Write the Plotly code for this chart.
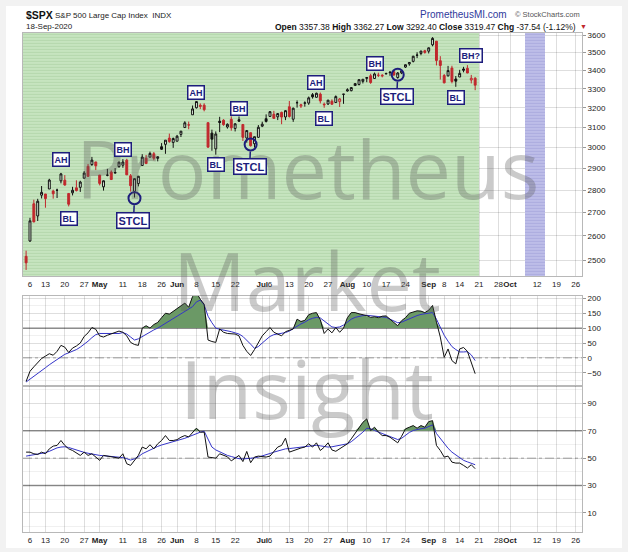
import numpy as np
import pandas as pd
import plotly.graph_objects as go
from plotly.subplots import make_subplots

# trading days shown (holidays dropped, future weekdays kept for the empty right side)
holidays = ["2020-04-10", "2020-05-25", "2020-07-03", "2020-09-07"]
days = [d.strftime("%Y-%m-%d") for d in pd.bdate_range("2020-04-03", "2020-10-30")]
days = [d for d in days if d not in holidays]
pos = {d: i for i, d in enumerate(days)}
dates = [d for d in days if d <= "2020-09-18"]

prev_close = 2526.90  # close before the first bar

opens = [2514.92, 2578.28, 2738.65, 2685.00, 2776.99, 2782.46, 2805.10, 2795.64, 2799.34, 2842.43,
         2845.62, 2784.81, 2787.89, 2810.42, 2812.64, 2854.65, 2909.96, 2918.46, 2930.91, 2869.09,
         2815.01, 2868.88, 2883.14, 2878.26, 2908.83, 2915.46, 2939.50, 2865.86, 2794.54, 2829.95,
         2913.86, 2948.59, 2953.63, 2969.95, 2948.05, 3004.08, 3015.65, 3046.61, 3025.17, 3031.00,
         3064.78, 3098.90, 3111.56, 3163.84, 3199.92, 3213.32, 3213.42, 3123.53, 3071.04, 2993.76,
         3131.00, 3136.13, 3101.64, 3140.29, 3094.42, 3138.70, 3114.40, 3046.60, 3073.20, 3018.59,
         3050.20, 3105.92, 3143.64, 3155.29, 3166.44, 3153.07, 3176.17, 3152.47, 3205.08, 3141.11,
         3225.98, 3208.36, 3224.21, 3224.29, 3268.52, 3254.86, 3271.64, 3218.58, 3219.84, 3234.27,
         3227.22, 3231.76, 3270.45, 3288.26, 3289.92, 3317.37, 3323.17, 3340.05, 3356.04, 3370.34,
         3355.46, 3372.95, 3368.66, 3380.86, 3387.04, 3392.51, 3360.48, 3386.01, 3418.09, 3435.95,
         3449.97, 3485.14, 3494.69, 3509.73, 3507.44, 3543.76, 3564.74, 3453.60, 3371.88, 3369.82,
         3412.56, 3352.70, 3363.56, 3407.73, 3411.23, 3346.86, 3357.38]
highs = [2538.18, 2676.85, 2756.89, 2760.75, 2818.57, 2782.46, 2851.85, 2801.88, 2806.51, 2879.22,
         2868.98, 2785.54, 2815.10, 2844.90, 2842.71, 2887.72, 2921.15, 2954.86, 2930.91, 2869.09,
         2844.24, 2898.23, 2891.11, 2901.92, 2932.16, 2944.25, 2945.82, 2874.14, 2852.80, 2865.01,
         2968.09, 2964.21, 2980.29, 2978.50, 2956.76, 3021.72, 3036.25, 3068.67, 3049.17, 3062.18,
         3081.07, 3130.94, 3128.91, 3211.72, 3233.13, 3222.71, 3223.27, 3123.53, 3088.42, 3079.76,
         3153.45, 3141.16, 3120.00, 3155.53, 3120.92, 3154.90, 3115.01, 3086.25, 3073.73, 3053.89,
         3111.51, 3128.44, 3165.81, 3182.59, 3184.15, 3171.80, 3179.78, 3186.82, 3235.32, 3200.95,
         3238.28, 3220.39, 3233.52, 3258.61, 3277.29, 3279.32, 3279.99, 3227.26, 3241.43, 3243.72,
         3264.74, 3250.92, 3272.17, 3302.73, 3306.84, 3330.77, 3351.03, 3352.54, 3363.29, 3381.01,
         3387.89, 3387.24, 3378.51, 3387.59, 3395.06, 3399.54, 3390.80, 3399.96, 3432.09, 3444.21,
         3481.07, 3501.38, 3509.23, 3514.77, 3528.03, 3588.11, 3564.85, 3479.15, 3379.97, 3424.77,
         3425.55, 3368.95, 3402.93, 3419.48, 3428.92, 3375.17, 3362.27]
lows = [2459.96, 2574.57, 2657.67, 2663.30, 2762.36, 2721.17, 2805.10, 2761.54, 2764.32, 2830.88,
        2820.43, 2727.10, 2775.95, 2794.26, 2791.76, 2852.89, 2860.71, 2912.16, 2892.47, 2821.61,
        2797.85, 2863.55, 2847.65, 2876.48, 2902.88, 2903.44, 2869.59, 2793.15, 2766.64, 2816.78,
        2913.86, 2922.35, 2953.63, 2938.57, 2933.59, 2988.17, 2969.75, 3023.40, 2998.61, 3031.00,
        3051.64, 3098.90, 3090.41, 3163.84, 3196.00, 3193.11, 3181.49, 2999.49, 2984.47, 2965.66,
        3076.06, 3108.03, 3093.51, 3083.11, 3079.39, 3127.12, 3032.13, 3024.01, 3004.63, 2999.74,
        3047.83, 3101.17, 3124.52, 3155.29, 3142.93, 3136.53, 3115.70, 3136.22, 3149.43, 3127.66,
        3200.76, 3198.59, 3205.65, 3215.16, 3247.77, 3253.10, 3222.66, 3200.05, 3214.25, 3216.17,
        3227.22, 3204.13, 3220.26, 3284.53, 3286.37, 3317.37, 3318.14, 3328.72, 3335.44, 3326.44,
        3355.46, 3363.35, 3361.64, 3379.22, 3370.15, 3369.66, 3354.69, 3379.31, 3413.13, 3425.84,
        3444.15, 3468.35, 3484.32, 3493.25, 3494.60, 3535.23, 3427.41, 3349.63, 3329.27, 3366.84,
        3329.25, 3310.47, 3363.56, 3389.25, 3384.45, 3328.82, 3292.40]
closes = [2488.65, 2663.68, 2659.41, 2749.98, 2789.82, 2761.63, 2846.06, 2783.36, 2799.55, 2874.56,
          2823.16, 2736.56, 2799.31, 2797.80, 2836.74, 2878.48, 2863.39, 2939.51, 2912.43, 2830.71,
          2842.74, 2868.44, 2848.42, 2881.19, 2929.80, 2930.32, 2870.12, 2820.00, 2852.50, 2863.70,
          2953.91, 2922.94, 2971.61, 2948.51, 2955.45, 2991.77, 3036.13, 3029.73, 3044.31, 3055.73,
          3080.82, 3122.87, 3112.35, 3193.93, 3232.39, 3207.18, 3190.14, 3002.10, 3041.31, 3066.59,
          3124.74, 3113.49, 3115.34, 3097.74, 3117.86, 3131.29, 3050.33, 3083.76, 3009.05, 3053.24,
          3100.29, 3115.86, 3130.01, 3179.72, 3145.32, 3169.94, 3152.05, 3185.04, 3155.22, 3197.52,
          3226.56, 3215.57, 3224.73, 3251.84, 3257.30, 3276.02, 3235.66, 3215.63, 3239.41, 3218.44,
          3258.44, 3246.22, 3271.12, 3294.61, 3306.51, 3327.77, 3349.16, 3351.28, 3360.47, 3333.69,
          3380.35, 3373.43, 3372.85, 3381.99, 3389.78, 3374.85, 3385.51, 3397.16, 3431.28, 3443.62,
          3478.73, 3484.55, 3508.01, 3500.31, 3526.65, 3580.84, 3455.06, 3426.96, 3331.84, 3398.96,
          3339.19, 3340.97, 3383.54, 3401.20, 3385.49, 3357.01, 3319.47]

cci = [-79, -45, -30, -14, -2, 6, 14, 9, 22, 42,
       36, 18, 33, 40, 50, 72, 84, 102, 96, 74,
       70, 76, 80, 86, 90, 86, 74, 52, 45, 42,
       100, 108, 100, 112, 119, 135, 150, 147, 156, 165,
       174, 184, 170, 206, 219, 197, 180, 60, 55, 52,
       97, 86, 82, 80, 80, 74, 42, 22, 8, 28,
       50, 74, 88, 102, 86, 80, 74, 88, 92, 97,
       130, 122, 126, 145, 150, 152, 128, 82, 97, 84,
       102, 86, 100, 135, 152, 152, 148, 146, 142, 136,
       138, 135, 140, 141, 130, 118, 108, 125, 135, 150,
       155, 158, 157, 152, 160, 176, 120, 70, 2, 30,
       -9, -20, 30, 35, 22, -15, -53]
cci_ma = [-81, -72, -62, -52, -42, -33, -23, -14, -4, 6,
          12, 17, 22, 28, 36, 45, 56, 68, 78, 82,
          82, 81, 80, 80, 82, 85, 80, 70, 60, 64,
          72, 78, 86, 94, 100, 108, 116, 124, 133, 141,
          148, 156, 164, 172, 188, 194, 178, 140, 118, 100,
          96, 94, 92, 88, 84, 80, 72, 60, 46, 32,
          38, 50, 62, 72, 78, 80, 82, 85, 90, 98,
          108, 114, 120, 128, 133, 136, 134, 124, 112, 104,
          102, 104, 110, 120, 130, 136, 140, 142, 143, 142,
          141, 140, 138, 136, 130, 124, 118, 120, 126, 132,
          138, 142, 146, 148, 150, 152, 130, 100, 76, 56,
          38, 28, 20, 20, 21, 10, -9]
rsi = [54.4, 54.4, 53.2, 52.7, 54.4, 53.2, 56.8, 58.8, 59.3, 62.9,
       59.3, 56.8, 55.6, 54.0, 52.0, 54.4, 52.0, 53.2, 50.8, 48.4,
       52.0, 51.5, 51.5, 50.8, 50.0, 53.2, 45.9, 44.7, 48.4, 52.0,
       58.1, 56.8, 59.8, 56.8, 60.5, 62.9, 66.5, 62.9, 62.9, 63.5,
       65.3, 66.5, 65.5, 69.0, 71.9, 69.0, 69.0, 50.8, 50.4, 50.0,
       53.2, 52.0, 51.0, 48.0, 50.0, 52.0, 47.5, 54.9, 46.7, 50.8,
       51.5, 51.0, 50.8, 51.5, 55.0, 58.1, 59.3, 64.6, 54.4, 55.5,
       56.8, 57.4, 58.1, 60.5, 58.1, 61.2, 55.6, 58.0, 61.2, 56.0,
       55.0, 56.8, 58.5, 60.5, 64.1, 68.0, 72.6, 76.2, 78.7, 70.2,
       72.6, 69.0, 66.5, 66.5, 65.3, 63.0, 61.2, 66.0, 71.4, 72.6,
       73.8, 71.9, 73.8, 72.6, 76.7, 77.4, 59.3, 55.6, 50.8, 51.5,
       47.1, 46.4, 46.4, 44.7, 42.8, 45.2, 42.3]
rsi_ma = [51.5, 52.0, 52.5, 53.0, 53.4, 54.0, 55.0, 56.2, 57.5, 58.1,
          58.3, 57.8, 56.8, 55.8, 54.9, 54.2, 53.6, 53.0, 52.5, 52.0,
          51.8, 51.6, 51.3, 51.0, 50.8, 50.4, 49.6, 48.6, 49.5, 51.0,
          53.2, 54.6, 56.0, 57.3, 58.6, 59.6, 60.4, 61.2, 62.0, 62.6,
          63.4, 64.5, 65.6, 66.8, 68.0, 69.0, 69.7, 64.0, 58.1, 56.0,
          54.6, 53.5, 52.0, 51.2, 50.4, 49.6, 49.4, 49.6, 49.8, 50.2,
          50.8, 51.5, 52.5, 53.4, 54.4, 55.2, 56.0, 56.8, 57.0, 57.3,
          57.6, 58.0, 58.5, 59.0, 59.3, 59.4, 59.0, 58.6, 58.1, 58.3,
          58.8, 59.4, 60.0, 60.5, 62.0, 64.2, 66.5, 69.0, 71.9, 71.5,
          70.2, 69.0, 67.8, 66.8, 65.6, 64.5, 63.6, 64.5, 66.8, 68.8,
          70.2, 71.0, 71.5, 71.9, 73.0, 74.3, 68.0, 64.1, 60.5, 57.2,
          54.4, 52.3, 50.2, 48.4, 47.3, 46.2, 45.2]

tick_dates = ["2020-04-06", "2020-04-13", "2020-04-20", "2020-04-27", "2020-05-01", "2020-05-11",
              "2020-05-18", "2020-05-26", "2020-06-01", "2020-06-08", "2020-06-15", "2020-06-22",
              "2020-07-01", "2020-07-06", "2020-07-13", "2020-07-20", "2020-07-27", "2020-08-03",
              "2020-08-10", "2020-08-17", "2020-08-24", "2020-09-01", "2020-09-08", "2020-09-14",
              "2020-09-21", "2020-09-28", "2020-10-01", "2020-10-12", "2020-10-19", "2020-10-26"]
tick_text = ["6", "13", "20", "27", "<b>May</b>", "11", "18", "26", "<b>Jun</b>", "8", "15", "22",
             "<b>Jul</b>", "6", "13", "20", "27", "<b>Aug</b>", "10", "17", "24", "<b>Sep</b>", "8", "14",
             "21", "28", "<b>Oct</b>", "12", "19", "26"]
price_ticks = [2500, 2600, 2700, 2800, 2900, 3000, 3100, 3200, 3300, 3400, 3500, 3600]

# chart notes: (date, price, text)
labels = [("2020-04-17", 2943, "AH"), ("2020-04-21", 2676, "BL"), ("2020-05-11", 2991, "BH"),
          ("2020-06-08", 3280, "AH"), ("2020-06-15", 2920, "BL"), ("2020-06-23", 3196, "BH"),
          ("2020-07-22", 3333, "AH"), ("2020-07-24", 3146, "BL"), ("2020-08-12", 3437, "BH"),
          ("2020-09-02", 3642, "AH"), ("2020-09-17", 3483, "BH?"), ("2020-09-11", 3253, "BL")]
stcl_dates = ["2020-05-14", "2020-06-26", "2020-08-20"]
stcl_prices = [2763, 3015, 3376]

shade_end = "2020-09-21"
band_start, band_end = "2020-10-07", "2020-10-14"
price_lo, price_hi = 2436, 3613

NAVY = "#1d1d7c"
RED = "#c0282d"
FONT = "Liberation Sans, Arial, sans-serif"
W, H = 628, 552
L, R = 23, 46
X_RANGE = [-0.8, 143.6]


def px_x(p):
    return (p - L) / (W - L - R)


def px_y(p):
    return (H - p) / H


x_all = [pos[d] for d in dates]
prevs = [prev_close] + closes[:-1]

fig = make_subplots(rows=3, cols=1, shared_xaxes=True, vertical_spacing=0)

# striped background bands (green = history, purple = time window)
for a, b, bg, fg in [(X_RANGE[0], pos[shade_end], "#c6e4bf", "rgba(90,150,80,0.32)"),
                     (pos[band_start], pos[band_end], "#bdbde8", "rgba(80,80,170,0.32)")]:
    fig.add_trace(go.Bar(
        x=[(a + b) / 2], y=[price_hi - price_lo], base=[price_lo], width=[b - a],
        marker=dict(color=bg, line=dict(width=0),
                    pattern=dict(shape="-", fgcolor=fg, bgcolor=bg, size=3, solidity=0.35)),
        hoverinfo="skip", showlegend=False), row=1, col=1)

# candles: black when close >= previous close, red otherwise; hollow when close > open
for up, col in [(True, "#111111"), (False, RED)]:
    idx = [i for i in range(len(dates)) if (closes[i] >= prevs[i]) == up]
    fig.add_trace(go.Candlestick(
        x=[x_all[i] for i in idx], open=[opens[i] for i in idx], high=[highs[i] for i in idx],
        low=[lows[i] for i in idx], close=[closes[i] for i in idx],
        increasing=dict(line=dict(color=col, width=1), fillcolor="rgba(255,255,255,0.6)"),
        decreasing=dict(line=dict(color=col, width=1), fillcolor=col),
        whiskerwidth=0, hoverinfo="skip", showlegend=False), row=1, col=1)

fig.add_trace(go.Scatter(
    x=[pos[d] for d in stcl_dates], y=stcl_prices, mode="markers",
    marker=dict(symbol="circle-open", size=12, color=NAVY, line=dict(width=2, color=NAVY)),
    hoverinfo="skip", showlegend=False), row=1, col=1)

# CCI panel
fig.add_trace(go.Scatter(x=x_all, y=[100] * len(x_all), mode="lines", line=dict(width=0),
                         hoverinfo="skip", showlegend=False), row=2, col=1)
fig.add_trace(go.Scatter(x=x_all, y=[max(v, 100) for v in cci], mode="lines", line=dict(width=0),
                         fill="tonexty", fillcolor="#6b9966", hoverinfo="skip", showlegend=False),
              row=2, col=1)
fig.add_trace(go.Scatter(x=x_all, y=cci_ma, mode="lines", line=dict(color="#3434c8", width=1),
                         hoverinfo="skip", showlegend=False), row=2, col=1)
fig.add_trace(go.Scatter(x=x_all, y=cci, mode="lines", line=dict(color="#111111", width=1),
                         hoverinfo="skip", showlegend=False), row=2, col=1)

# RSI panel
fig.add_trace(go.Scatter(x=x_all, y=[70] * len(x_all), mode="lines", line=dict(width=0),
                         hoverinfo="skip", showlegend=False), row=3, col=1)
fig.add_trace(go.Scatter(x=x_all, y=[max(v, 70) for v in rsi], mode="lines", line=dict(width=0),
                         fill="tonexty", fillcolor="#6b9966", hoverinfo="skip", showlegend=False),
              row=3, col=1)
fig.add_trace(go.Scatter(x=x_all, y=rsi_ma, mode="lines", line=dict(color="#3434c8", width=1),
                         hoverinfo="skip", showlegend=False), row=3, col=1)
fig.add_trace(go.Scatter(x=x_all, y=rsi, mode="lines", line=dict(color="#111111", width=1),
                         hoverinfo="skip", showlegend=False), row=3, col=1)

shapes = [
    dict(type="rect", xref="paper", yref="paper", x0=px_x(6), x1=px_x(622), y0=px_y(548), y1=px_y(4),
         fillcolor="white", line=dict(width=0), layer="below"),
]
for ax, yv, col, wd, dash in [("2", 100, "#666666", 1, "solid"), ("2", 0, "#aaaaaa", 1, "dashdot"),
                              ("3", 70, "#999999", 1.5, "solid"), ("3", 30, "#999999", 1.5, "solid"),
                              ("3", 50, "#aaaaaa", 1, "dashdot")]:
    shapes.append(dict(type="line", xref="x%s domain" % ax, yref="y%s" % ax, x0=0, x1=1, y0=yv, y1=yv,
                       line=dict(color=col, width=wd, dash=dash), layer="below"))

annotations = []
# watermark
for word, yc in [("Prometheus", 166), ("Market", 279), ("Insight", 387)]:
    annotations.append(dict(text=word, xref="paper", yref="paper", x=px_x(307), y=px_y(yc),
                            xanchor="center", yanchor="middle", showarrow=False,
                            font=dict(family="Open Sans", size=81, color="rgba(90,90,90,0.32)")))

# header
chg = closes[-1] - closes[-2]
pct = chg / closes[-2] * 100
last_day = pd.Timestamp(dates[-1]).strftime("%d-%b-%Y")
header = [
    ("<b>$SPX</b>", 24, 13, "left", 10.5, "#111111"),
    ("S&P 500 Large Cap Index  INDX", 53, 14, "left", 8, "#222222"),
    (last_day, 24, 25, "left", 8, "#222222"),
    ("PrometheusMI.com", 418, 13, "left", 10, "#2e3a9c"),
    ("© StockCharts.com", 513, 13, "left", 7.5, "#555555"),
    ("<b>Open</b> %.2f <b>High</b> %.2f <b>Low</b> %.2f <b>Close</b> %.2f <b>Chg</b> %.2f (%.2f%%)"
     % (opens[-1], highs[-1], lows[-1], closes[-1], chg, pct), 578, 25, "right", 8.5, "#111111"),
    ("▼", 583, 25, "center", 7, RED),
]
for txt, x, y, anc, size, col in header:
    annotations.append(dict(text=txt, xref="paper", yref="paper", x=px_x(x), y=px_y(y),
                            xanchor=anc, yanchor="middle", showarrow=False,
                            font=dict(family=FONT, size=size, color=col)))

for d, price, txt in labels:
    annotations.append(dict(text="<b>%s</b>" % txt, x=pos[d], y=np.log10(price), xref="x", yref="y",
                            showarrow=False, bgcolor="white", bordercolor=NAVY, borderwidth=1.5,
                            borderpad=1, font=dict(family=FONT, size=9, color=NAVY)))
for d, price in zip(stcl_dates, stcl_prices):
    annotations.append(dict(text="<b>STCL</b>", x=pos[d], y=np.log10(price), xref="x", yref="y",
                            showarrow=True, arrowhead=0, arrowwidth=1.5, arrowcolor=NAVY, standoff=7,
                            ax=-1, ay=22, bgcolor="white", bordercolor=NAVY, borderwidth=1.5,
                            borderpad=1, font=dict(family=FONT, size=11, color=NAVY)))

fig.update_layout(
    width=W, height=H, margin=dict(l=L, r=R, t=0, b=0),
    paper_bgcolor="#f2f2f2", plot_bgcolor="white", showlegend=False,
    font=dict(family=FONT, size=8, color="#222222"),
    shapes=shapes, annotations=annotations, bargap=0,
    xaxis_rangeslider_visible=False,
)

xcommon = dict(range=X_RANGE, tickmode="array", tickvals=[pos[d] for d in tick_dates], ticktext=tick_text,
               tickangle=0, showgrid=True, gridcolor="rgba(0,0,0,0.13)", gridwidth=1, zeroline=False,
               showline=True, linecolor="#b8b8b8", mirror=True, ticks="", tickfont=dict(size=8))
fig.update_xaxes(**xcommon)
fig.update_xaxes(showticklabels=True, row=1, col=1)
fig.update_xaxes(showticklabels=False, row=2, col=1)
fig.update_xaxes(showticklabels=True, row=3, col=1)

ycommon = dict(side="right", showgrid=True, gridcolor="rgba(0,0,0,0.13)", zeroline=False, showline=True,
               linecolor="#b8b8b8", mirror=True, ticks="outside", ticklen=3, tickcolor="#999999",
               tickfont=dict(size=8))
fig.update_yaxes(**ycommon)
fig.update_yaxes(type="log", range=[np.log10(price_lo), np.log10(price_hi)], tickmode="array",
                 tickvals=price_ticks, ticktext=[str(v) for v in price_ticks],
                 domain=[px_y(275), px_y(31)], row=1, col=1)
fig.update_yaxes(range=[-93, 208], tick0=0, dtick=50, domain=[px_y(385), px_y(295)],
                 minor=dict(dtick=25, showgrid=True, gridcolor="rgba(0,0,0,0.06)"), row=2, col=1)
fig.update_yaxes(range=[-4, 103], tick0=10, dtick=20, domain=[px_y(532), px_y(385)],
                 minor=dict(dtick=10, showgrid=True, gridcolor="rgba(0,0,0,0.06)"), row=3, col=1)

fig.write_html("out.html", config={"displayModeBar": False},
               post_script="document.body.style.margin='0';document.body.style.overflow='hidden';")
